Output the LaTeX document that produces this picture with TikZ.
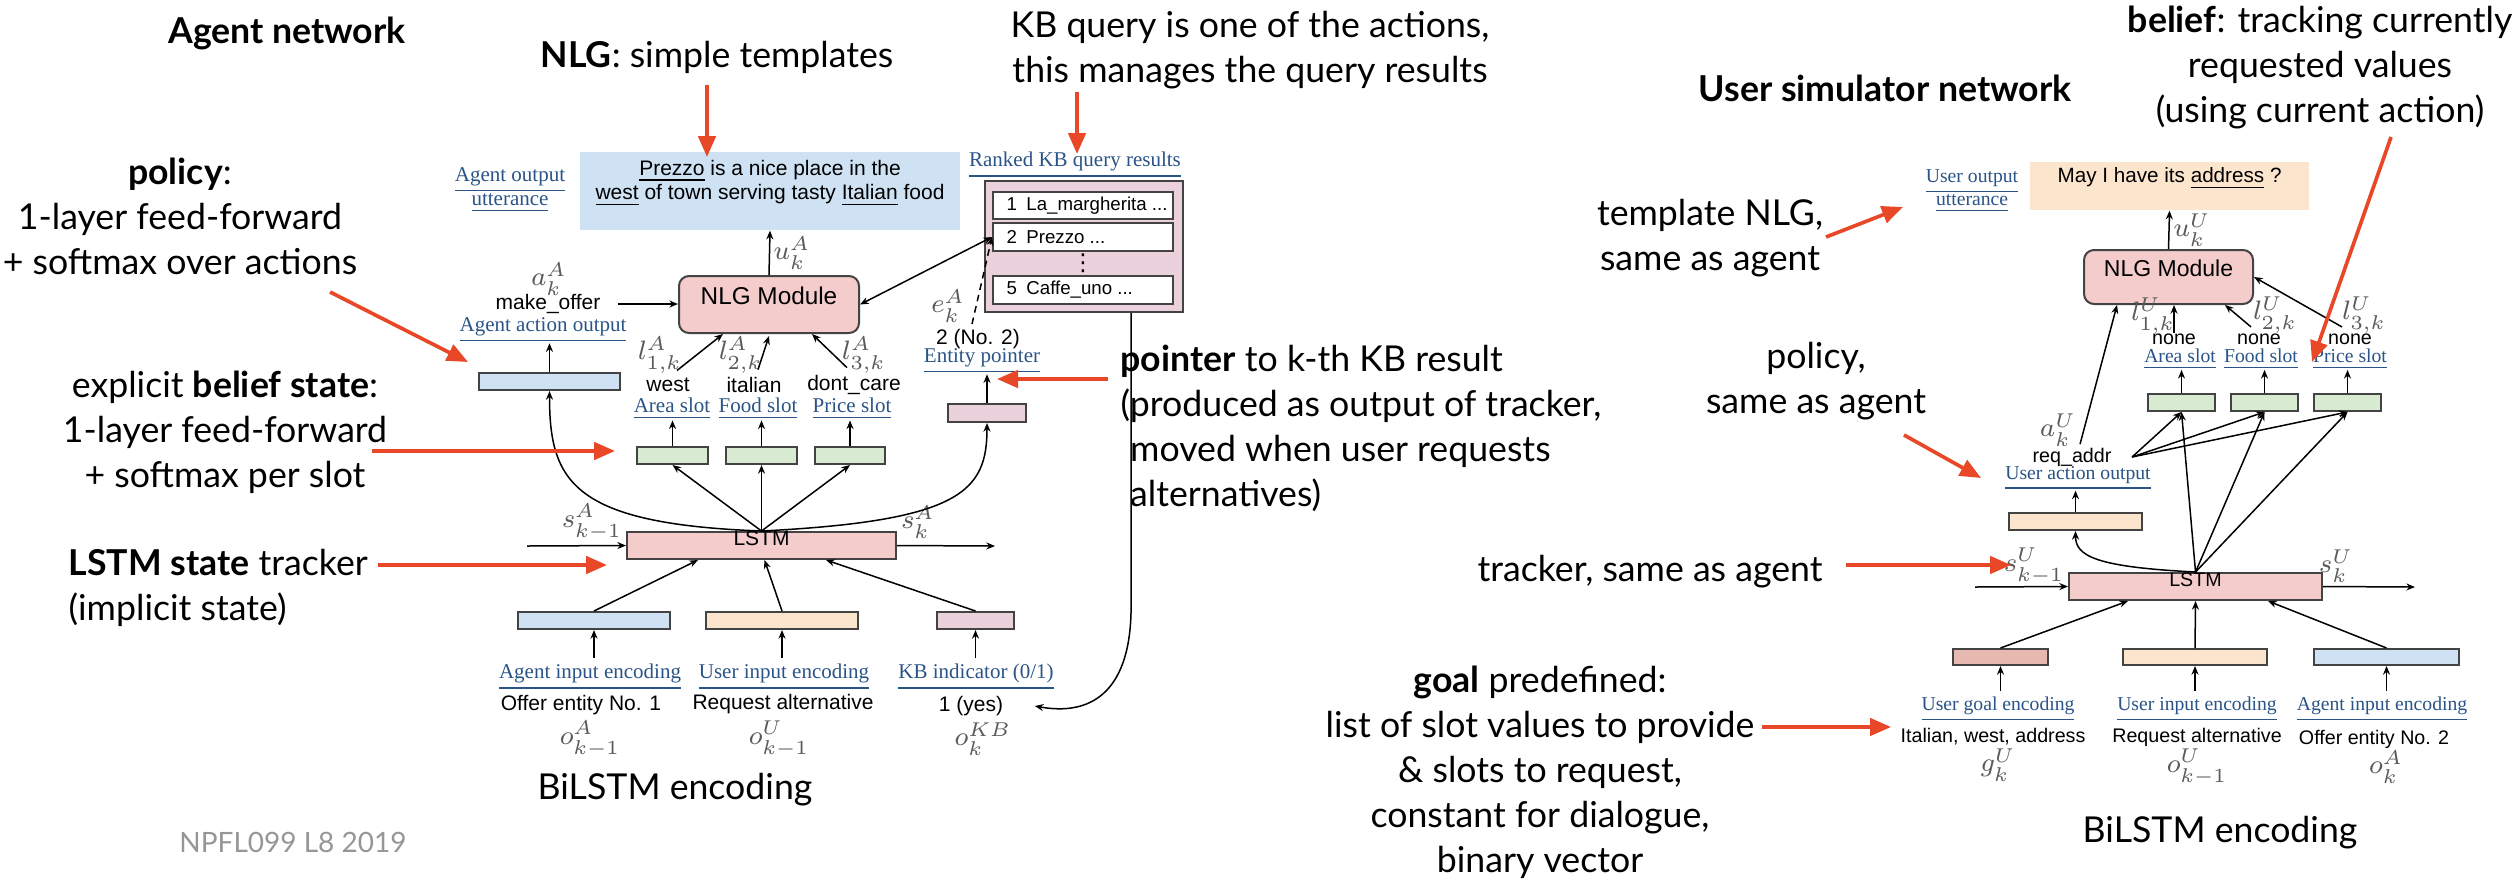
\documentclass[tikz,border=0pt]{standalone}
\usepackage{fontspec}
\newfontfamily\annot{Lato}
\newfontfamily\arial{Liberation Sans}
\newfontfamily\tnr{Liberation Serif}
\newfontfamily\djv{DejaVu Sans}
\usetikzlibrary{arrows.meta,fit,calc}
\definecolor{annred}{RGB}{232,72,40}
\definecolor{lblue}{HTML}{CFE2F3}
\definecolor{lpink}{HTML}{F4CCCC}
\definecolor{lgreen}{HTML}{D9EAD3}
\definecolor{lorange}{HTML}{FCE5CD}
\definecolor{lmauve}{HTML}{EAD1DC}
\definecolor{lgoal}{HTML}{E6B8AF}
\definecolor{edge}{HTML}{434343}
\definecolor{linkblue}{RGB}{42,84,135}
\definecolor{mathgray}{RGB}{90,90,90}
\definecolor{footgray}{RGB}{150,150,150}
\begin{document}
\begin{tikzpicture}[x=0.3pt,y=-0.3pt,
  ann/.style={font=\annot\fontsize{10.7}{13.5}\selectfont, align=center, inner sep=0pt},
  annb/.style={ann, font=\annot\bfseries\fontsize{10.7}{13.5}\selectfont},
  redarr/.style={draw=annred, line width=1.1pt, -{Triangle[length=6.3pt,width=5.2pt]}},
  darr/.style={draw=black, line width=0.45pt, -{Stealth[length=2.6pt,width=2.1pt]}},
  darrb/.style={darr, {Stealth[length=2.6pt,width=2.1pt]}-{Stealth[length=2.6pt,width=2.1pt]}},
  box/.style={draw=edge, line width=0.6pt, inner sep=0pt},
  rbox/.style={box, rounded corners=3pt},
  dtxt/.style={font=\arial\fontsize{6.3}{7.4}\selectfont, inner sep=0pt, align=center},
  kbtxt/.style={font=\arial\fontsize{5.6}{6.5}\selectfont, inner sep=0pt, anchor=west},
  dtxtU/.style={font=\arial\fontsize{5.9}{7}\selectfont, inner sep=0pt, align=center},
  lnk/.style={font=\tnr\fontsize{6.3}{7.4}\selectfont, text=linkblue, inner sep=0pt, align=center},
  lnkU/.style={font=\tnr\fontsize{5.9}{7}\selectfont, text=linkblue, inner sep=0pt, align=center},
  mth/.style={font=\fontsize{8.5}{10}\selectfont, text=mathgray, inner sep=0pt},
  mthU/.style={font=\fontsize{8}{9.5}\selectfont, text=mathgray, inner sep=0pt},
]
\fill[white] (0,0) rectangle (2519,878);
\useasboundingbox (0,0) rectangle (2519,878);

%% ================= LEFT: Agent network =================
\node[fill=lblue, dtxt, fit={(580,152) (960,230)}] (uttA)
  {\underline{Prezzo} is a nice place in the\\\underline{west} of town serving tasty \underline{Italian} food};
\node[lnk] (uoA) at (510,190) {\underline{Agent output}\\\underline{utterance}};

\node[lnk] (kbttl) at (1075,165) {\underline{Ranked KB query results}};
\node[box, fill=lmauve, fit={(985,181) (1183,312)}] (kb) {};
\node[box, fill=white, fit={(993,192) (1173,219)}] (kb1) {};
\node[box, fill=white, fit={(993,223) (1173,251)}] (kb2) {};
\node[box, fill=white, fit={(993,276) (1173,304)}] (kb5) {};
\node[kbtxt] (kb1t) at ($(kb1.west)+(14,0)$) {1\enspace La\_margherita ...};
\node[kbtxt] (kb2t) at ($(kb2.west)+(14,0)$) {2\enspace Prezzo ...};
\node[kbtxt] (kb5t) at ($(kb5.west)+(14,0)$) {5\enspace Caffe\_uno ...};
\node[font=\djv\fontsize{7}{8}\selectfont, inner sep=0pt] (kbdots) at (1083,263) {⋮};

\node[rbox, fill=lpink, fit={(679,276) (859,333)}, font=\arial\fontsize{7.3}{8.5}\selectfont] (nlgA) {NLG Module};
\draw[darr] (nlgA.north) -- (uttA.south);
\node[mth] (uA) at (792,253) {$u_k^A$};
\draw[darrb] (nlgA.east) -- (kb2.west);

\node[mth] (aA) at (549,279) {$a_k^A$};
\node[dtxt] (mkoff) at (548,304) {make\_offer};
\draw[darr, shorten <=5pt] (mkoff.east) -- (nlgA.west |- mkoff.east);
\node[lnk] (aaoA) at (543,330) {\underline{Agent action output}};
\node[box, fill=lblue, fit={(479,373) (620,390)}] (actA) {};
\draw[darr] (actA.north) -- (actA.north |- aaoA.south);

\node[mth] (l1A) at (660,355) {$l_{1,k}^A$};
\node[dtxt] (v1A) at (668,385) {west};
\node[mth] (l2A) at (741,355) {$l_{2,k}^A$};
\node[dtxt] (v2A) at (754,385) {italian};
\node[mth] (l3A) at (864,355) {$l_{3,k}^A$};
\node[dtxt] (v3A) at (854,385) {dont\_care};
\node[lnk] (s1A) at (672,409) {\underline{Area slot}};
\node[lnk] (s2A) at (758,409) {\underline{Food slot}};
\node[lnk] (s3A) at (852,409) {\underline{Price slot}};
\node[box, fill=lgreen, fit={(637,447) (708,464)}] (g1A) {};
\node[box, fill=lgreen, fit={(726,447) (797,464)}] (g2A) {};
\node[box, fill=lgreen, fit={(815,447) (885,464)}] (g3A) {};
\draw[darr] (g1A.north) -- (g1A.north |- s1A.south);
\draw[darr] (g2A.north) -- (g2A.north |- s2A.south);
\draw[darr] (g3A.north) -- (g3A.north |- s3A.south);
\draw[darr] ($(v1A.north)+(9,-7)$) -- ($(nlgA.south west)+(45,0)$);
\draw[darr] ($(v2A.north)+(4,-7)$) -- ($(nlgA.south)+(0,2)$);
\draw[darr] ($(v3A.north)+(-7,-7)$) -- ($(nlgA.south east)+(-48,0)$);

\node[mth] (eA) at (948,306) {$e_k^A$};
\node[dtxt] (no2A) at (978,339) {2 (No. 2)};
\node[lnk] (epA) at (982,361) {\underline{Entity pointer}};
\node[box, fill=lmauve, fit={(948,404) (1026,422)}] (entA) {};
\draw[darr] (entA.north) -- (entA.north |- epA.south);
\coordinate (eAstart) at (972,324);
\draw[darr, dash pattern=on 2pt off 1.5pt] (eAstart) -- (kb2.west);

\node[box, fill=lpink, fit={(627,532) (896,559)}, dtxt] (lstmA) {LSTM};
\node[mth] (skm1A) at (592,522) {$s_{k-1}^A$};
\coordinate (sinA) at (527,546);
\draw[darr] (sinA) -- (lstmA.west);
\node[mth] (skA) at (918,522) {$s_k^A$};
\coordinate (soutA) at (995,546);
\draw[darr] (lstmA.east) -- (soutA);
\draw[darr] (lstmA.north) -- (g1A.south);
\draw[darr] (lstmA.north) -- (g2A.south);
\draw[darr] (lstmA.north) -- (g3A.south);
\draw[darr] (lstmA.north) .. controls ($(lstmA.north)+(-190,-7)$) and ($(actA.south)+(0,90)$) .. (actA.south);
\draw[darr] (lstmA.north) .. controls ($(lstmA.north)+(200,-10)$) and ($(entA.south)+(0,68)$) .. (entA.south);

\node[box, fill=lblue, fit={(518,612) (670,629)}] (inA1) {};
\node[box, fill=lorange, fit={(706,612) (858,629)}] (inA2) {};
\node[box, fill=lmauve, fit={(937,612) (1014,629)}] (inA3) {};
\draw[darr] (inA1.north) -- ($(lstmA.south west)+(72,0)$);
\draw[darr] (inA2.north) -- ($(lstmA.south)+(3,0)$);
\draw[darr] (inA3.north) -- ($(lstmA.south east)+(-71,0)$);
\draw[darr] ($(inA1.south)+(0,28)$) -- (inA1.south);
\draw[darr] ($(inA2.south)+(0,28)$) -- (inA2.south);
\draw[darr] ($(inA3.south)+(0,28)$) -- (inA3.south);
\node[lnk] (encA1) at (590,677) {\underline{Agent input encoding}};
\node[lnk] (encA2) at (784,677) {\underline{User input encoding}};
\node[lnk] (encA3) at (976,677) {\underline{KB indicator (0/1)}};
\node[dtxt] (valA1) at (581,705) {Offer entity No. 1};
\node[dtxt] (valA2) at (783,704) {Request alternative};
\node[dtxt] (yesA) at (971,706) {1 (yes)};
\node[mth] (oA1) at (590,739) {$o_{k-1}^A$};
\node[mth] (oA2) at (779,739) {$o_{k-1}^U$};
\node[mth] (oA3) at (983,739) {$o_k^{KB}$};
\draw[darr] ($(kb.south east)+(-53,0)$) -- ++(0,300) .. controls +(-2,80) and (1090,716) .. ($(yesA.east)+(31,0)$);

\node[annb] (agentnet) at (287,33) {Agent network};
\node[ann] (nlgann) at (717,57) {\textbf{NLG}: simple templates};
\coordinate (r1s) at (707,85); \coordinate (r1e) at (707,157);
\draw[redarr] (r1s) -- (r1e);
\node[ann] (kbann) at (1250,50) {KB query is one of the actions,\\this manages the query results};
\coordinate (r2s) at (1077,92); \coordinate (r2e) at (1077,154);
\draw[redarr] (r2s) -- (r2e);
\node[ann] (polann) at (180,216) {\textbf{policy}:\\1-layer feed-forward\\+ softmax over actions};
\coordinate (r3s) at (330,292); \coordinate (r3e) at (468,362);
\draw[redarr] (r3s) -- (r3e);
\node[ann] (belann) at (225,432) {explicit \textbf{belief state}:\\1-layer feed-forward\\+ softmax per slot};
\coordinate (r4s) at (372,451); \coordinate (r4e) at (615,451);
\draw[redarr] (r4s) -- (r4e);
\node[ann, align=left, anchor=west] (lstmann) at (68,588) {\textbf{LSTM state} tracker\\(implicit state)};
\coordinate (r5s) at (378,565); \coordinate (r5e) at (607,565);
\draw[redarr] (r5s) -- (r5e);
\node[ann, align=left, anchor=west] (ptrann) at (1120,428) {\textbf{pointer} to k-th KB result\\(produced as output of tracker,\\\phantom{(}moved when user requests\\\phantom{(}alternatives)};
\coordinate (r6s) at (1108,379); \coordinate (r6e) at (997,379);
\draw[redarr] (r6s) -- (r6e);
\node[ann] (bilA) at (675,790) {BiLSTM encoding};
\node[ann, text=footgray, font=\annot\fontsize{8.4}{10}\selectfont] (foot) at (293,842) {NPFL099 L8 2019};

%% ================= RIGHT: User simulator network =================
\node[lnkU] (uoU) at (1972,191) {\underline{User output}\\\underline{utterance}};
\node[fill=lorange, dtxtU, font=\arial\fontsize{6.2}{7}\selectfont, fit={(2030,162) (2309,210)}] (uttU) {May I have its \underline{address} ?};
\node[rbox, fill=lpink, fit={(2084,250) (2253,304)}, font=\arial\fontsize{6.9}{8}\selectfont] (nlgU) {NLG Module};
\draw[darr] (nlgU.north) -- (uttU.south);
\node[mthU] (uU) at (2192,230) {$u_k^U$};

\node[mthU] (l1U) at (2153,316) {$l_{1,k}^U$};
\node[dtxtU] (v1U) at (2174,339) {none};
\node[mthU] (l2U) at (2275,315) {$l_{2,k}^U$};
\node[dtxtU] (v2U) at (2259,339) {none};
\node[mthU] (l3U) at (2364,315) {$l_{3,k}^U$};
\node[dtxtU] (v3U) at (2350,339) {none};
\node[lnkU] (s1U) at (2180,359) {\underline{Area slot}};
\node[lnkU] (s2U) at (2261,359) {\underline{Food slot}};
\node[lnkU] (s3U) at (2350,359) {\underline{Price slot}};
\node[box, fill=lgreen, fit={(2148,394) (2215,411)}] (g1U) {};
\node[box, fill=lgreen, fit={(2231,394) (2298,411)}] (g2U) {};
\node[box, fill=lgreen, fit={(2314,394) (2381,411)}] (g3U) {};
\draw[darr] (g1U.north) -- (g1U.north |- s1U.south);
\draw[darr] (g2U.north) -- (g2U.north |- s2U.south);
\draw[darr] (g3U.north) -- (g3U.north |- s3U.south);
\draw[darr] (v1U.north) -- (v1U.north |- nlgU.south);
\draw[darr] ($(v2U.north)+(-8,-6)$) -- ($(nlgU.south east)+(-29,0)$);
\draw[darr] ($(v3U.north)+(-8,-6)$) -- (nlgU.east);

\node[mthU] (aU) at (2058,430) {$a_k^U$};
\node[dtxtU] (reqU) at (2072,457) {req\_addr};
\node[lnkU] (uaoU) at (2078,478) {\underline{User action output}};
\draw[darr] ($(reqU.north)+(8,-3)$) -- ($(nlgU.south west)+(34,0)$);
\coordinate (reqfork) at ($(reqU.east)+(20,0)$);
\draw[darr] (reqfork) -- (g1U.south);
\draw[darr] (reqfork) -- (g2U.south);
\draw[darr] (reqfork) -- (g3U.south);
\node[box, fill=lorange, fit={(2009,513) (2142,530)}] (actU) {};
\draw[darr] (actU.north) -- (actU.north |- uaoU.south);

\node[box, fill=lpink, fit={(2069,573) (2322,600)}, dtxtU] (lstmU) {LSTM};
\node[mthU] (skm1U) at (2034,566) {$s_{k-1}^U$};
\coordinate (sinU) at (1975,587);
\draw[darr] (sinU) -- (lstmU.west);
\node[mthU] (skU) at (2336,566) {$s_k^U$};
\coordinate (soutU) at (2415,587);
\draw[darr] (lstmU.east) -- (soutU);
\draw[darr] (lstmU.north) -- (g1U.south);
\draw[darr] (lstmU.north) -- (g2U.south);
\draw[darr] (lstmU.north) -- (g3U.south);
\draw[darr] (lstmU.north) .. controls ($(lstmU.north)+(-100,-5)$) and ($(actU.south)+(0,25)$) .. (actU.south);

\node[box, fill=lgoal, fit={(1953,649) (2048,665)}] (inU1) {};
\node[box, fill=lorange, fit={(2123,649) (2267,665)}] (inU2) {};
\node[box, fill=lblue, fit={(2314,649) (2459,665)}] (inU3) {};
\draw[darr] (inU1.north) -- ($(lstmU.south west)+(60,0)$);
\draw[darr] (inU2.north) -- (lstmU.south);
\draw[darr] (inU3.north) -- ($(lstmU.south east)+(-55,0)$);
\draw[darr] ($(inU1.south)+(0,25)$) -- (inU1.south);
\draw[darr] ($(inU2.south)+(0,25)$) -- (inU2.south);
\draw[darr] ($(inU3.south)+(0,25)$) -- (inU3.south);
\node[lnkU] (encU1) at (1998,709) {\underline{User goal encoding}};
\node[lnkU] (encU2) at (2197,709) {\underline{User input encoding}};
\node[lnkU] (encU3) at (2382,709) {\underline{Agent input encoding}};
\node[dtxtU] (valU1) at (1993,737) {Italian, west, address};
\node[dtxtU] (valU2) at (2197,737) {Request alternative};
\node[dtxtU] (valU3) at (2374,739) {Offer entity No. 2};
\node[mthU] (gU) at (1998,765) {$g_k^U$};
\node[mthU] (oU2) at (2197,767) {$o_{k-1}^U$};
\node[mthU] (oU3) at (2386,767) {$o_k^A$};

\node[annb] (usernet) at (1885,88) {User simulator network};
\node[ann] (belUann) at (2320,68) {\textbf{belief}: tracking currently\\requested values\\(using current action)};
\coordinate (r7s) at (2391,137); \coordinate (r7e) at (2312,362);
\draw[redarr] (r7s) -- (r7e);
\node[ann] (tmplann) at (1710,238) {template NLG,\\same as agent};
\coordinate (r8s) at (1826,237); \coordinate (r8e) at (1903,207);
\draw[redarr] (r8s) -- (r8e);
\node[ann] (polUann) at (1816,381) {policy,\\same as agent};
\coordinate (r9s) at (1904,435); \coordinate (r9e) at (1981,478);
\draw[redarr] (r9s) -- (r9e);
\node[ann] (trkUann) at (1650,572) {tracker, same as agent};
\coordinate (r10s) at (1846,565); \coordinate (r10e) at (2011,565);
\draw[redarr] (r10s) -- (r10e);
\node[ann] (goalann) at (1540,772) {\textbf{goal} predefined:\\list of slot values to provide\\\& slots to request,\\constant for dialogue,\\binary vector};
\coordinate (r11s) at (1762,727); \coordinate (r11e) at (1891,727);
\draw[redarr] (r11s) -- (r11e);
\node[ann] (bilU) at (2220,833) {BiLSTM encoding};
\end{tikzpicture}
\end{document}
